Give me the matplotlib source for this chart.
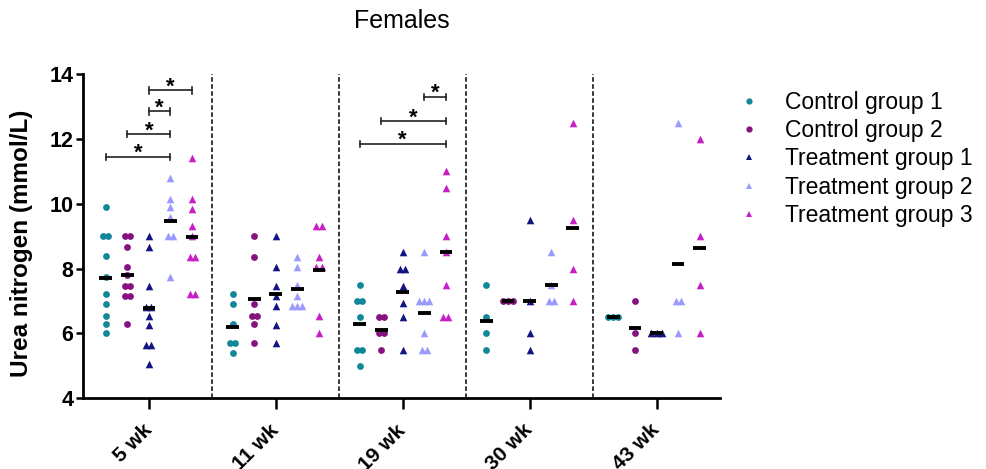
import numpy as np
import matplotlib
matplotlib.use('Agg')
import matplotlib.pyplot as plt
from matplotlib.lines import Line2D

plt.rcParams['font.family'] = ['Liberation Sans', 'DejaVu Sans']

weeks = ['5 wk', '11 wk', '19 wk', '30 wk', '43 wk']
group_names = ['Control group 1', 'Control group 2', 'Treatment group 1',
               'Treatment group 2', 'Treatment group 3']

# urea nitrogen (mmol/L), one list per time point
control1 = [[9.9, 9.0, 9.0, 8.4, 7.75, 7.2, 6.9, 6.55, 6.3, 6.0],
            [7.2, 6.9, 6.3, 5.7, 5.7, 5.4],
            [7.5, 7.0, 7.0, 6.5, 5.5, 5.5, 5.0],
            [7.5, 6.5, 6.0, 5.5],
            [6.5, 6.5, 6.5]]
control2 = [[9.0, 9.0, 8.65, 8.05, 7.8, 7.45, 7.45, 7.15, 7.15, 6.3],
            [9.0, 8.35, 6.9, 6.55, 6.55, 6.3, 5.7],
            [6.5, 6.5, 6.0, 6.0, 5.5],
            [7.0, 7.0, 7.0],
            [7.0, 6.0, 5.5]]
treat1 = [[9.0, 8.65, 7.45, 6.8, 6.8, 6.55, 6.25, 5.65, 5.65, 5.05],
          [9.0, 8.05, 7.45, 7.15, 6.85, 6.25, 5.7],
          [8.5, 8.0, 8.0, 7.45, 6.95, 6.5, 5.5],
          [9.5, 7.0, 6.0, 5.5],
          [6.0, 6.0, 6.0]]
treat2 = [[10.8, 10.15, 9.9, 9.6, 9.0, 9.0, 7.75],
          [8.35, 8.05, 7.5, 7.15, 6.85, 6.85, 6.85],
          [8.5, 7.0, 7.0, 7.0, 6.0, 5.5, 5.5],
          [8.5, 7.5, 7.0, 7.0],
          [12.5, 7.0, 7.0, 6.0]]
treat3 = [[11.4, 10.15, 9.85, 9.3, 9.0, 8.35, 8.35, 7.2, 7.2],
          [9.3, 9.3, 8.35, 8.05, 8.05, 6.55, 6.0],
          [11.0, 10.5, 9.0, 8.5, 7.5, 6.5, 6.5],
          [12.5, 9.5, 8.0, 7.0],
          [12.0, 9.0, 7.5, 6.0]]

# significant comparisons: (week index, group a, group b, bracket height)
sig_pairs = [(0, 0, 3, 11.45), (0, 1, 3, 12.15), (0, 2, 3, 12.85), (0, 2, 4, 13.5),
             (2, 0, 4, 11.85), (2, 1, 4, 12.55), (2, 3, 4, 13.3)]

groups = [control1, control2, treat1, treat2, treat3]
colors = ['#12879a', '#85127f', '#141482', '#9a9aff', '#c81ec8']
markers = ['o', 'o', '^', '^', '^']
sizes = [24, 24, 30, 30, 30]
step = 0.17


def spread(vals, gap=0.04):
    # put identical values side by side
    vals = np.asarray(vals)
    offs = np.zeros(len(vals))
    used = np.zeros(len(vals), bool)
    for i in range(len(vals)):
        if used[i]:
            continue
        idx = np.where((np.abs(vals - vals[i]) < 0.08) & ~used)[0]
        used[idx] = True
        n = len(idx)
        offs[idx] = (np.arange(n) - (n - 1) / 2) * gap
    return offs


fig = plt.figure(figsize=(9.87, 4.69), dpi=100)
ax = fig.add_axes([0.084, 0.151, 0.6455, 0.691])

for w in range(len(weeks)):
    for g, data in enumerate(groups):
        vals = np.array(data[w])
        xc = w + (g - 2) * step
        ax.scatter(xc + spread(vals), vals, s=sizes[g], marker=markers[g],
                   color=colors[g], linewidths=0, zorder=3)
        ax.plot([xc - 0.05, xc + 0.05], [vals.mean()] * 2, color='black',
                lw=2.8, solid_capstyle='butt', zorder=4)

for w, a, b, y in sig_pairs:
    x1 = w + (a - 2) * step
    x2 = w + (b - 2) * step
    ax.plot([x1, x2], [y, y], color='#222222', lw=1.2)
    ax.plot([x1, x1], [y - 0.1, y + 0.1], color='#222222', lw=1.2)
    ax.plot([x2, x2], [y - 0.1, y + 0.1], color='#222222', lw=1.2)
    ax.text((x1 + x2) / 2, y + 0.1, '*', ha='center', va='center',
            fontsize=16, fontweight='bold')

for w in range(len(weeks) - 1):
    ax.axvline(w + 0.5, color='black', lw=1.1, ls=(0, (3, 1.6)), zorder=1)

ax.set_xlim(-0.52, 4.5)
ax.set_ylim(4, 14)
ax.set_yticks([4, 6, 8, 10, 12, 14])
ax.set_xticks(range(len(weeks)))
ax.set_xticklabels(weeks, rotation=45, ha='right', va='center',
                   rotation_mode='anchor', fontsize=15, fontweight='bold')
for lab in ax.get_yticklabels():
    lab.set_fontsize(15.5)
    lab.set_fontweight('bold')
ax.tick_params(axis='y', length=5, width=1.8, pad=2)
ax.tick_params(axis='x', length=8, width=1.8, pad=13)
ax.spines['top'].set_visible(False)
ax.spines['right'].set_visible(False)
ax.spines['left'].set_linewidth(2)
ax.spines['bottom'].set_linewidth(2)
ax.set_ylabel('Urea nitrogen (mmol/L)', fontsize=17.5, fontweight='bold')
ax.yaxis.set_label_coords(-0.079, 0.478)
fig.text(0.407, 0.955, 'Females', ha='center', va='center', fontsize=18)

handles = [Line2D([], [], ls='none', marker=markers[g], color=colors[g],
                  markersize=4.5, markeredgewidth=0) for g in range(5)]
fig.legend(handles, group_names, loc='upper left', bbox_to_anchor=(0.739, 0.826),
           frameon=False, fontsize=16.5, handlelength=0.9, handletextpad=1.12,
           labelspacing=0.23, borderaxespad=0)

fig.savefig('out.png', dpi=100)
